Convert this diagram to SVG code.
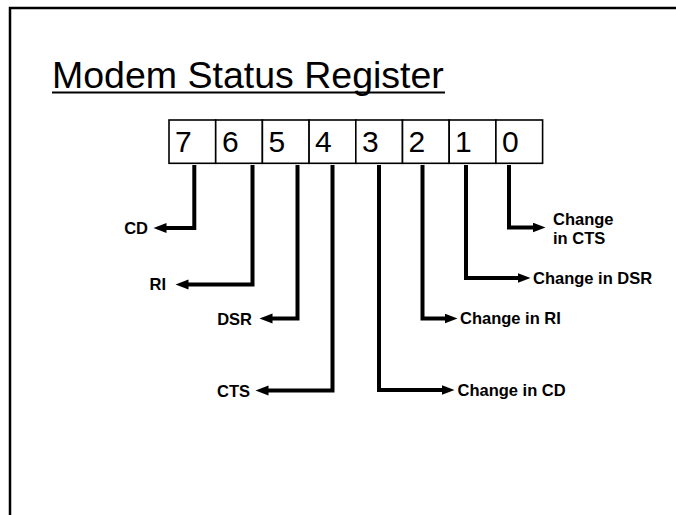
<svg xmlns="http://www.w3.org/2000/svg" width="676" height="515" viewBox="0 0 676 515">
<defs>
<marker id="ah" markerUnits="userSpaceOnUse" markerWidth="14" markerHeight="11" refX="0.5" refY="5" orient="auto">
<path d="M0,0 L13,5 L0,10 Z" fill="#000"/>
</marker>
<style>
.frame{fill:none;stroke:#000;stroke-width:2.5}
.cell{fill:#fff;stroke:#000;stroke-width:1.6}
.digit{font-family:"Liberation Sans",Arial,sans-serif;font-size:30px;fill:#000}
.title{font-family:"Liberation Sans",Arial,sans-serif;font-size:37.5px;fill:#000}
.lbl{font-family:"Liberation Sans",Arial,sans-serif;font-size:16.5px;font-weight:bold;fill:#000}
.conn{fill:none;stroke:#000;stroke-width:4;stroke-linejoin:miter;marker-end:url(#ah)}
</style>
</defs>
<rect width="676" height="515" fill="#fff"/>
<rect class="frame" x="10" y="8" width="700" height="600"/>
<g id="title">
<text class="title" x="52" y="88">Modem Status Register</text>
<line x1="52" y1="92.5" x2="445" y2="92.5" stroke="#000" stroke-width="1.8"/>
</g>
<g id="register">
<rect class="cell" x="169" y="120" width="46.7" height="43.3"/>
<rect class="cell" x="215.7" y="120" width="46.7" height="43.3"/>
<rect class="cell" x="262.4" y="120" width="46.7" height="43.3"/>
<rect class="cell" x="309.1" y="120" width="46.7" height="43.3"/>
<rect class="cell" x="355.8" y="120" width="46.7" height="43.3"/>
<rect class="cell" x="402.5" y="120" width="46.7" height="43.3"/>
<rect class="cell" x="449.2" y="120" width="46.7" height="43.3"/>
<rect class="cell" x="495.9" y="120" width="46.7" height="43.3"/>
<text class="digit" x="175" y="152">7</text>
<text class="digit" x="222" y="152">6</text>
<text class="digit" x="268.5" y="152">5</text>
<text class="digit" x="315" y="152">4</text>
<text class="digit" x="362" y="152">3</text>
<text class="digit" x="408.5" y="152">2</text>
<text class="digit" x="455" y="152">1</text>
<text class="digit" x="502" y="152">0</text>
</g>
<g id="connectors">
<path class="conn" d="M194.3,165 V228 H166"/>
<path class="conn" d="M252.5,165 V284.5 H188"/>
<path class="conn" d="M297.5,165 V318.5 H272"/>
<path class="conn" d="M332.5,165 V390.5 H268"/>
<path class="conn" d="M379,165 V390 H442"/>
<path class="conn" d="M422.5,165 V318.5 H445"/>
<path class="conn" d="M466,165 V278 H518"/>
<path class="conn" d="M509,165 V227.5 H533"/>
</g>
<g id="label-cd"><text class="lbl" x="148" y="234" text-anchor="end">CD</text></g>
<g id="label-ri"><text class="lbl" x="166" y="290" text-anchor="end">RI</text></g>
<g id="label-dsr"><text class="lbl" x="252" y="324.5" text-anchor="end">DSR</text></g>
<g id="label-cts"><text class="lbl" x="250" y="396.5" text-anchor="end">CTS</text></g>
<g id="label-dcts"><text class="lbl" x="553" y="225">Change</text><text class="lbl" x="553" y="244">in CTS</text></g>
<g id="label-ddsr"><text class="lbl" x="533" y="284">Change in DSR</text></g>
<g id="label-dri"><text class="lbl" x="460" y="324">Change in RI</text></g>
<g id="label-dcd"><text class="lbl" x="457.5" y="396">Change in CD</text></g>
</svg>
